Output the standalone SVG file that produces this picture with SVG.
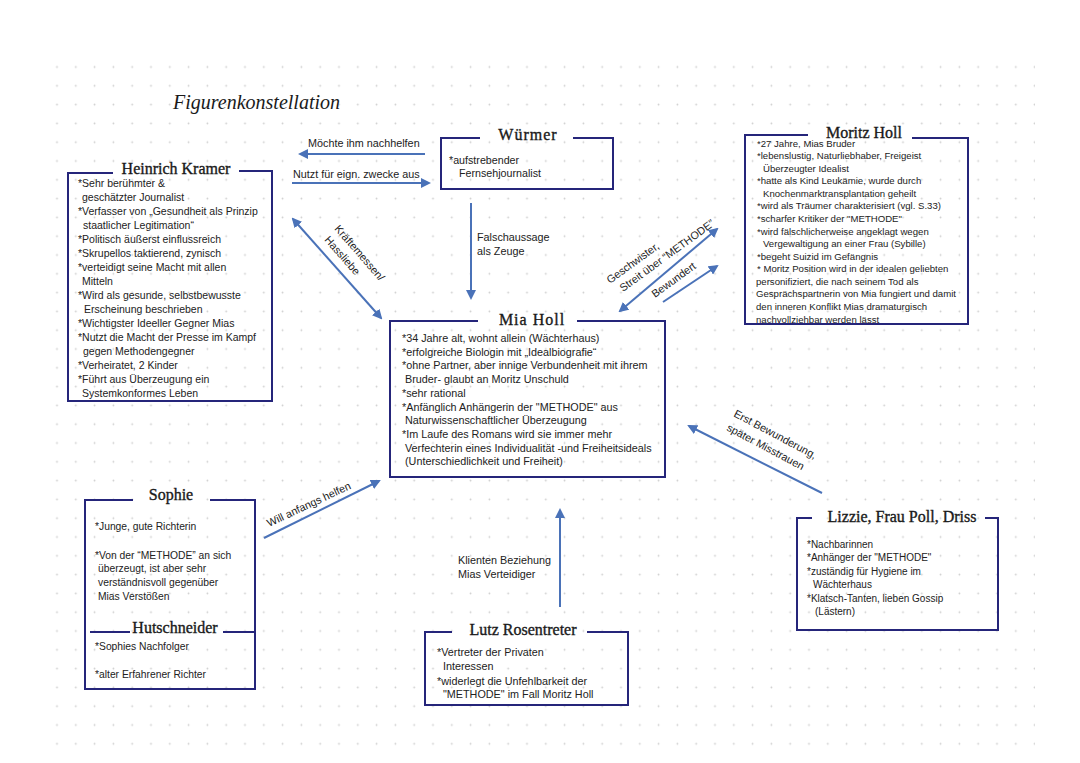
<svg xmlns="http://www.w3.org/2000/svg" width="1080" height="763" viewBox="0 0 1080 763">
<defs>
<pattern id="dots" x="47.6" y="57.6" width="18.8" height="18.8" patternUnits="userSpaceOnUse">
<circle cx="9.4" cy="9.4" r="0.9" fill="#cdcdcd"/>
</pattern>
<marker id="ah" viewBox="0 0 10 10" refX="8" refY="5" markerWidth="5" markerHeight="5" orient="auto-start-reverse" markerUnits="strokeWidth">
<path d="M0,0 L10,5 L0,10 z" fill="#4a72b8"/>
</marker>
<style>
.box{fill:none;stroke:#25257a;stroke-width:2}
.ttl{font-family:"Liberation Serif",serif;font-size:16px;fill:#1a1a1a;stroke:#1a1a1a;stroke-width:0.35;text-anchor:middle}
.t{font-family:"Liberation Sans",Arial,sans-serif;font-size:10.5px;fill:#222}
.tm{font-family:"Liberation Sans",Arial,sans-serif;font-size:10.8px;fill:#222}
.ts{font-family:"Liberation Sans",Arial,sans-serif;font-size:9.6px;fill:#222}
.tw{font-family:"Liberation Sans",Arial,sans-serif;font-size:10.7px;fill:#222}
.tp{font-family:"Liberation Sans",Arial,sans-serif;font-size:10.3px;fill:#222}
.tz{font-family:"Liberation Sans",Arial,sans-serif;font-size:10px;fill:#222}
.lb{font-family:"Liberation Sans",Arial,sans-serif;font-size:10.8px;fill:#222}
.ar{stroke:#4a72b8;stroke-width:2;fill:none}
</style>
</defs>
<rect width="1080" height="763" fill="#ffffff"/>
<rect x="50" y="60" width="985" height="695" fill="url(#dots)"/>

<text x="173" y="109" style="font-family:'Liberation Serif',serif;font-style:italic;font-size:20px;fill:#1a1a1a">Figurenkonstellation</text>

<g id="connectors">
<line class="ar" x1="425" y1="154" x2="300" y2="154" marker-end="url(#ah)"/>
<line class="ar" x1="292" y1="183" x2="429" y2="183" marker-end="url(#ah)"/>
<line class="ar" x1="471" y1="203" x2="471" y2="298" marker-end="url(#ah)"/>
<line class="ar" x1="293" y1="219" x2="381" y2="318" marker-start="url(#ah)" marker-end="url(#ah)"/>
<line class="ar" x1="620" y1="311" x2="717" y2="229" marker-start="url(#ah)" marker-end="url(#ah)"/>
<line class="ar" x1="663" y1="302" x2="717" y2="266" marker-end="url(#ah)"/>
<line class="ar" x1="822" y1="493" x2="689" y2="426" marker-end="url(#ah)"/>
<line class="ar" x1="264" y1="538" x2="379" y2="481" marker-end="url(#ah)"/>
<line class="ar" x1="560" y1="607" x2="560" y2="510" marker-end="url(#ah)"/>
<text class="lb" x="308" y="147">Möchte ihm nachhelfen</text>
<text class="lb" x="293" y="177.5">Nutzt für eign. zwecke aus</text>
<text class="lb" x="477" y="241">Falschaussage</text>
<text class="lb" x="477" y="255">als Zeuge</text>
<text class="lb" transform="translate(334,229) rotate(49)">Kräftemessen/</text>
<text class="lb" transform="translate(324,240) rotate(49)">Hassliebe</text>
<text class="lb" transform="translate(610,284) rotate(-36)">Geschwister,</text>
<text class="lb" transform="translate(623,292) rotate(-36)">Streit über “METHODE”</text>
<text class="lb" transform="translate(655,298) rotate(-36)">Bewundert</text>
<text class="lb" transform="translate(733,416) rotate(28)">Erst Bewunderung,</text>
<text class="lb" transform="translate(726,430) rotate(28)">später Misstrauen</text>
<text class="lb" transform="translate(269,527) rotate(-25)">Will anfangs helfen</text>
<text class="lb" x="458" y="564">Klienten Beziehung</text>
<text class="lb" x="458" y="577.5">Mias Verteidiger</text>
</g>

<g id="kramer">
<path class="box" d="M113,173 H68 V401 H272 V171 H239"/>
<text class="ttl" x="176" y="174">Heinrich Kramer</text>
<text class="t" x="78" y="187">*Sehr berühmter &amp;</text>
<text class="t" x="82" y="201">geschätzter Journalist</text>
<text class="t" x="78" y="215">*Verfasser von „Gesundheit als Prinzip</text>
<text class="t" x="83" y="229">staatlicher Legitimation“</text>
<text class="t" x="78" y="243">*Politisch äußerst einflussreich</text>
<text class="t" x="78" y="257">*Skrupellos taktierend, zynisch</text>
<text class="t" x="78" y="271">*verteidigt seine Macht mit allen</text>
<text class="t" x="82" y="285">Mitteln</text>
<text class="t" x="78" y="299">*Wird als gesunde, selbstbewusste</text>
<text class="t" x="84" y="313">Erscheinung beschrieben</text>
<text class="t" x="78" y="327">*Wichtigster Ideeller Gegner Mias</text>
<text class="t" x="78" y="341">*Nutzt die Macht der Presse im Kampf</text>
<text class="t" x="83" y="355">gegen Methodengegner</text>
<text class="t" x="78" y="369">*Verheiratet, 2 Kinder</text>
<text class="t" x="78" y="383">*Führt aus Überzeugung ein</text>
<text class="t" x="82" y="397">Systemkonformes Leben</text>
</g>

<g id="wuermer">
<path class="box" d="M480,138 H441 V189 H613 V138 H573"/>
<text class="ttl" x="528" y="140" style="letter-spacing:1px">Würmer</text>
<text class="tw" x="449" y="163.5">*aufstrebender</text>
<text class="tw" x="459" y="177">Fernsehjournalist</text>
</g>

<g id="moritz">
<path class="box" d="M808,135 H745 V324 H968 V138 H912"/>
<text class="ttl" x="864" y="138">Moritz Holl</text>
<text class="ts" x="757" y="146.5">*27 Jahre, Mias Bruder</text>
<text class="ts" x="757" y="159.1">*lebenslustig, Naturliebhaber, Freigeist</text>
<text class="ts" x="763" y="171.6">Überzeugter Idealist</text>
<text class="ts" x="757" y="184.2">*hatte als Kind Leukämie, wurde durch</text>
<text class="ts" x="763" y="196.8">Knochenmarktransplantation geheilt</text>
<text class="ts" x="757" y="209.4">*wird als Träumer charakterisiert (vgl. S.33)</text>
<text class="ts" x="757" y="221.9">*scharfer Kritiker der "METHODE"</text>
<text class="ts" x="757" y="234.5">*wird fälschlicherweise angeklagt wegen</text>
<text class="ts" x="763" y="247.1">Vergewaltigung an einer Frau (Sybille)</text>
<text class="ts" x="757" y="259.6">*begeht Suizid im Gefängnis</text>
<text class="ts" x="757" y="272.2">* Moritz Position wird in der idealen geliebten</text>
<text class="ts" x="756" y="284.8">personifiziert, die nach seinem Tod als</text>
<text class="ts" x="756" y="297.3">Gesprächspartnerin von Mia fungiert und damit</text>
<text class="ts" x="756" y="309.9">den inneren Konflikt Mias dramaturgisch</text>
<text class="ts" x="756" y="322.5">nachvollziehbar werden lässt</text>
</g>

<g id="mia">
<path class="box" d="M478,321 H390 V477 H665 V321 H577"/>
<text class="ttl" x="532" y="325" style="letter-spacing:1px">Mia Holl</text>
<text class="tm" x="402" y="342">*34 Jahre alt, wohnt allein (Wächterhaus)</text>
<text class="tm" x="402" y="355.7">*erfolgreiche Biologin mit „Idealbiografie“</text>
<text class="tm" x="402" y="369.4">*ohne Partner, aber innige Verbundenheit mit ihrem</text>
<text class="tm" x="405" y="383.1">Bruder- glaubt an Moritz Unschuld</text>
<text class="tm" x="402" y="396.8">*sehr rational</text>
<text class="tm" x="402" y="410.5">*Anfänglich Anhängerin der "METHODE" aus</text>
<text class="tm" x="405" y="424.2">Naturwissenschaftlicher Überzeugung</text>
<text class="tm" x="402" y="437.9">*Im Laufe des Romans wird sie immer mehr</text>
<text class="tm" x="405" y="451.6">Verfechterin eines Individualität -und Freiheitsideals</text>
<text class="tm" x="405" y="465.3">(Unterschiedlichkeit und Freiheit)</text>
</g>

<g id="sophie">
<path class="box" d="M133,500 H85 V689 H255 V500 H210"/>
<text class="ttl" x="171" y="500">Sophie</text>
<text class="tp" x="95" y="529.5">*Junge, gute Richterin</text>
<text class="tp" x="95" y="558.5">*Von der “METHODE” an sich</text>
<text class="tp" x="98" y="572">überzeugt, ist aber sehr</text>
<text class="tp" x="98" y="585.5">verständnisvoll gegenüber</text>
<text class="tp" x="98" y="599.5">Mias Verstößen</text>
</g>

<g id="hutschneider">
<path class="box" d="M90,632 H130 M223,632 H255"/>
<text class="ttl" x="175" y="633">Hutschneider</text>
<text class="tp" x="95" y="650">*Sophies Nachfolger</text>
<text class="tp" x="95" y="677.5">*alter Erfahrener Richter</text>
</g>

<g id="lutz">
<path class="box" d="M452,632 H425 V705 H628 V632 H587"/>
<text class="ttl" x="523" y="635">Lutz Rosentreter</text>
<text class="tm" x="437" y="656">*Vertreter der Privaten</text>
<text class="tm" x="443" y="669.5">Interessen</text>
<text class="tm" x="437" y="684.5">*widerlegt die Unfehlbarkeit der</text>
<text class="tm" x="443" y="698">"METHODE" im Fall Moritz Holl</text>
</g>

<g id="lizzie">
<path class="box" d="M812,518 H797 V630 H998 V518 H985"/>
<text class="ttl" x="902" y="522">Lizzie, Frau Poll, Driss</text>
<text class="tz" x="807" y="547.5">*Nachbarinnen</text>
<text class="tz" x="807" y="561">*Anhänger der "METHODE"</text>
<text class="tz" x="807" y="574.5">*zuständig für Hygiene im</text>
<text class="tz" x="813" y="588">Wächterhaus</text>
<text class="tz" x="807" y="601.5">*Klatsch-Tanten, lieben Gossip</text>
<text class="tz" x="815" y="615">(Lästern)</text>
</g>
</svg>
